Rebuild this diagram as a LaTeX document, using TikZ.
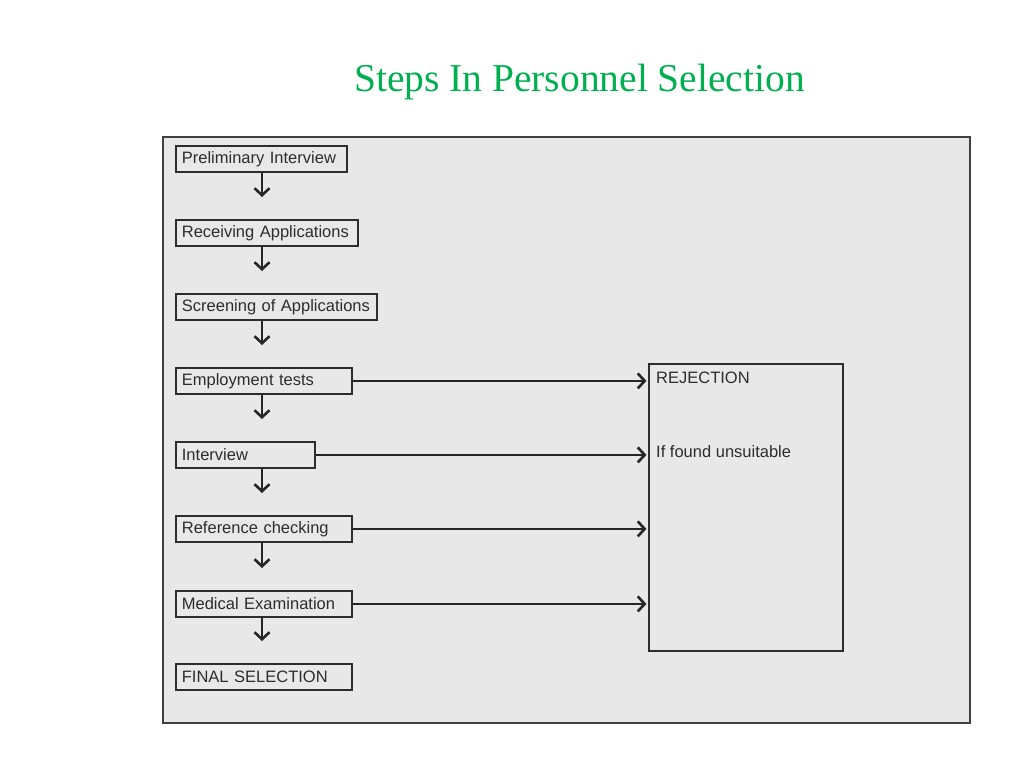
\documentclass[tikz,border=0pt]{standalone}
\usepackage{fontspec}
\setmainfont{Liberation Sans}
\newfontfamily\titlefont{Liberation Serif}
\usetikzlibrary{arrows.meta, positioning}
\definecolor{titlegreen}{RGB}{0,176,80}
\definecolor{panelgray}{RGB}{232,232,232}
\definecolor{inkgray}{RGB}{45,45,45}

\tikzset{
  stepbox/.style={draw=inkgray, line width=1.8pt, fill=panelgray, anchor=north west,
    inner xsep=6pt, inner ysep=0pt, minimum height=26pt, text width=#1, align=left,
    font=\fontsize{16.5}{19}\selectfont, text=inkgray},
  notetext/.style={anchor=west, inner sep=0pt, font=\fontsize{16.5}{19}\selectfont, text=inkgray},
  downflow/.style={line width=2.4pt, draw=black!85, shorten >=22pt,
    -{Straight Barb[length=7pt,width=15pt,line width=2.6pt]}},
  sideflow/.style={line width=2.2pt, draw=black!85, shorten >=1.5pt,
    -{Straight Barb[length=7pt,width=15pt,line width=2.6pt]}}
}

\begin{document}
\begin{tikzpicture}[x=1pt,y=1pt,yscale=-1,xscale=1]
\useasboundingbox (0,0) rectangle (1024,768);

% Title
\node [anchor=base, inner sep=0pt, font=\titlefont\fontsize{39.5}{46}\selectfont, text=titlegreen] (title) at (579.5,91) {Steps In Personnel Selection};

% Background panel
\draw [draw=black!75, line width=2pt, fill=panelgray] (163,137) rectangle (970,723);

% Steps
\node [stepbox=159pt] (pre) at (175,145) {Preliminary Interview};
\node [stepbox=170pt] (rec) at (175,219) {Receiving Applications};
\node [stepbox=189pt] (scr) at (175,293) {Screening of Applications};
\node [stepbox=164pt] (emp) at (175,367) {Employment tests};
\node [stepbox=127pt] (int) at (175,441) {Interview};
\node [stepbox=164pt] (ref) at (175,515) {Reference checking};
\node [stepbox=164pt] (med) at (175,590) {Medical Examination};
\node [stepbox=164pt] (fin) at (175,663) {FINAL SELECTION};

% Rejection box
\node [draw=inkgray, line width=1.8pt, anchor=north west, minimum width=194pt, minimum height=287pt, inner sep=0pt] (rej) at (648,363) {};
\node [notetext] (rejtitle) at (656,378) {REJECTION};
\node [notetext] (rejnote) at (656,452) {If found unsuitable};

% Downward flow
\coordinate (spine) at (262,0);
\draw [downflow] (pre.south -| spine) -- (rec.north -| spine);
\draw [downflow] (rec.south -| spine) -- (scr.north -| spine);
\draw [downflow] (scr.south -| spine) -- (emp.north -| spine);
\draw [downflow] (emp.south -| spine) -- (int.north -| spine);
\draw [downflow] (int.south -| spine) -- (ref.north -| spine);
\draw [downflow] (ref.south -| spine) -- (med.north -| spine);
\draw [downflow] (med.south -| spine) -- (fin.north -| spine);

% Rejection flow
\draw [sideflow] (emp.east) -- (emp.east -| rej.west);
\draw [sideflow] (int.east) -- (int.east -| rej.west);
\draw [sideflow] (ref.east) -- (ref.east -| rej.west);
\draw [sideflow] (med.east) -- (med.east -| rej.west);

\end{tikzpicture}
\end{document}
